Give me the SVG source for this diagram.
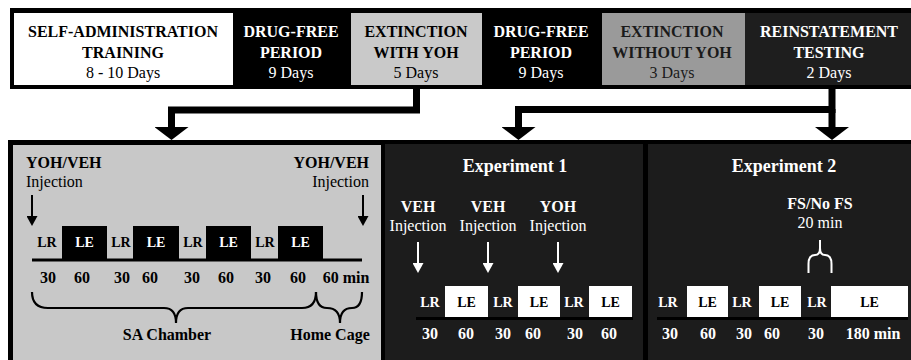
<svg xmlns="http://www.w3.org/2000/svg" width="911" height="360" viewBox="0 0 911 360">
<style>
text{font-family:"Liberation Serif","Times New Roman",serif;text-anchor:middle}
.h{font-weight:bold;font-size:16px}
.d{font-size:16px}
.t{font-weight:bold;font-size:14px}
.n{font-weight:bold;font-size:16px}
.ti{font-weight:bold;font-size:18px}
.w{fill:#fff}
.k{fill:#000}
.tl{stroke:#000;stroke-width:3}
.conn{fill:none;stroke:#000;stroke-width:7}
.inj{stroke-width:2}
.brace{fill:none;stroke:#000;stroke-width:2.2}
</style>
<defs>
<marker id="big" markerUnits="userSpaceOnUse" viewBox="0 0 13 34" markerWidth="13" markerHeight="34" refX="0" refY="17" orient="auto"><path d="M0,0 L13,17 L0,34 Z" fill="#000"/></marker>
<marker id="sk" markerUnits="userSpaceOnUse" viewBox="0 0 10 11" markerWidth="10" markerHeight="11" refX="0" refY="5.5" orient="auto"><path d="M0,0 L10,5.5 L0,11 Z" fill="#000"/></marker>
<marker id="sw" markerUnits="userSpaceOnUse" viewBox="0 0 10 11" markerWidth="10" markerHeight="11" refX="0" refY="5.5" orient="auto"><path d="M0,0 L10,5.5 L0,11 Z" fill="#fff"/></marker>
</defs>
<rect width="911" height="360" fill="#fff"/>
<!-- top bar frame -->
<rect x="10" y="8" width="901" height="81" fill="#000"/>
<g id="sa-training">
<rect x="14" y="13" width="219" height="72" fill="#fff"/>
<text class="h" x="123" y="37">SELF-ADMINISTRATION</text>
<text class="h" x="123" y="58">TRAINING</text>
<text class="d" x="123" y="78">8 - 10 Days</text>
</g>
<g id="drug-free-1">
<text class="h w" x="291" y="37">DRUG-FREE</text>
<text class="h w" x="291" y="58">PERIOD</text>
<text class="d w" x="291" y="78">9 Days</text>
</g>
<g id="extinction-yoh">
<rect x="351" y="13" width="131" height="72" fill="#c9c9c9"/>
<text class="h" x="416" y="37">EXTINCTION</text>
<text class="h" x="416" y="58">WITH YOH</text>
<text class="d" x="416" y="78">5 Days</text>
</g>
<g id="drug-free-2">
<text class="h w" x="541" y="37">DRUG-FREE</text>
<text class="h w" x="541" y="58">PERIOD</text>
<text class="d w" x="541" y="78">9 Days</text>
</g>
<g id="extinction-no-yoh">
<rect x="602" y="13" width="143" height="72" fill="#9a9a9a"/>
<text class="h" x="672" y="37" fill="#1a1a1a">EXTINCTION</text>
<text class="h" x="672" y="58" fill="#1a1a1a">WITHOUT YOH</text>
<text class="d" x="672" y="78" fill="#1a1a1a">3 Days</text>
</g>
<g id="reinstatement">
<rect x="745" y="13" width="166" height="72" fill="#1e1e1e"/>
<text class="h w" x="829" y="37">REINSTATEMENT</text>
<text class="h w" x="829" y="58">TESTING</text>
<text class="d w" x="829" y="78">2 Days</text>
</g>
<!-- connectors -->
<g id="connectors">
<polyline class="conn" points="416.5,88 416.5,110 171.5,110 171.5,127" marker-end="url(#big)"/>
<polyline class="conn" points="832,88 832,109.5 518.5,109.5 518.5,127" marker-end="url(#big)"/>
<line class="conn" x1="832" y1="109" x2="832" y2="127" marker-end="url(#big)"/>
</g>
<!-- bottom frame -->
<rect x="8" y="140" width="903" height="220" fill="#000"/>
<g id="extinction-panel">
<rect x="13" y="145" width="368" height="215" fill="#c8c8c8"/>
<text class="h" x="26" y="168" style="text-anchor:start">YOH/VEH</text>
<text class="d" x="26" y="187" style="text-anchor:start">Injection</text>
<text class="h" x="369" y="168" style="text-anchor:end">YOH/VEH</text>
<text class="d" x="369" y="187" style="text-anchor:end">Injection</text>
<line class="inj" x1="32" y1="195" x2="32" y2="216" stroke="#000" marker-end="url(#sk)"/>
<line class="inj" x1="363" y1="195" x2="363" y2="216" stroke="#000" marker-end="url(#sk)"/>
<rect x="62" y="226" width="45" height="34" fill="#000"/>
<rect x="133" y="226" width="46" height="34" fill="#000"/>
<rect x="206" y="226" width="45" height="34" fill="#000"/>
<rect x="278" y="226" width="45" height="34" fill="#000"/>
<line class="tl" x1="32" y1="260" x2="362" y2="260"/>
<text class="t" x="47" y="247">LR</text>
<text class="t w" x="84.5" y="247">LE</text>
<text class="t" x="121" y="247">LR</text>
<text class="t w" x="156" y="247">LE</text>
<text class="t" x="193" y="247">LR</text>
<text class="t w" x="228.5" y="247">LE</text>
<text class="t" x="265" y="247">LR</text>
<text class="t w" x="300.5" y="247">LE</text>
<text class="n" x="48" y="283">30</text>
<text class="n" x="82" y="283">60</text>
<text class="n" x="122" y="283">30</text>
<text class="n" x="150" y="283">60</text>
<text class="n" x="192" y="283">30</text>
<text class="n" x="226" y="283">60</text>
<text class="n" x="263" y="283">30</text>
<text class="n" x="298" y="283">60</text>
<text class="n" x="346" y="283">60 min</text>
<path class="brace" d="M32,292 Q32,308 48,308 L164,308 Q176,308 176,323 Q176,308 188,308 L302,308 Q316,308 316,292"/>
<path class="brace" d="M316,292 Q316,308 327,308 Q340,308 340,323 Q340,308 352,308 Q362,308 362,292"/>
<text class="n" x="167" y="340">SA Chamber</text>
<text class="n" x="330" y="340">Home Cage</text>
</g>
<g id="experiment-1">
<rect x="385" y="144" width="258" height="216" fill="#1c1c1c"/>
<text class="ti w" x="515" y="172">Experiment 1</text>
<text class="h w" x="418" y="212">VEH</text>
<text class="d w" x="418" y="231">Injection</text>
<text class="h w" x="488" y="212">VEH</text>
<text class="d w" x="488" y="231">Injection</text>
<text class="h w" x="558" y="212">YOH</text>
<text class="d w" x="558" y="231">Injection</text>
<line class="inj" x1="418" y1="242" x2="418" y2="263" stroke="#fff" marker-end="url(#sw)"/>
<line class="inj" x1="488" y1="242" x2="488" y2="263" stroke="#fff" marker-end="url(#sw)"/>
<line class="inj" x1="558" y1="242" x2="558" y2="263" stroke="#fff" marker-end="url(#sw)"/>
<rect x="445" y="286" width="43" height="32" fill="#fff"/>
<rect x="518" y="286" width="42" height="32" fill="#fff"/>
<rect x="589" y="286" width="43" height="32" fill="#fff"/>
<line class="tl" x1="416" y1="318.5" x2="633" y2="318.5"/>
<text class="t w" x="430" y="307">LR</text>
<text class="t" x="466.5" y="307">LE</text>
<text class="t w" x="503" y="307">LR</text>
<text class="t" x="539" y="307">LE</text>
<text class="t w" x="574" y="307">LR</text>
<text class="t" x="610.5" y="307">LE</text>
<text class="n w" x="430" y="339">30</text>
<text class="n w" x="466" y="339">60</text>
<text class="n w" x="503" y="339">30</text>
<text class="n w" x="533" y="339">60</text>
<text class="n w" x="575" y="339">30</text>
<text class="n w" x="609" y="339">60</text>
</g>
<g id="experiment-2">
<rect x="648" y="144" width="263" height="216" fill="#1c1c1c"/>
<text class="ti w" x="784" y="172">Experiment 2</text>
<text class="h w" x="820" y="209">FS/No FS</text>
<text class="d w" x="820" y="228">20 min</text>
<path d="M808.5,273 V264 Q808.5,255 815,255 Q820,255 820,248 V240 M820,248 Q820,255 825,255 Q831.5,255 831.5,264 V273" fill="none" stroke="#fff" stroke-width="2"/>
<rect x="687" y="286" width="41" height="32" fill="#fff"/>
<rect x="759" y="286" width="42" height="32" fill="#fff"/>
<rect x="831" y="286" width="77" height="32" fill="#fff"/>
<line class="tl" x1="657" y1="318.5" x2="908" y2="318.5"/>
<text class="t w" x="668" y="307">LR</text>
<text class="t" x="707.5" y="307">LE</text>
<text class="t w" x="742" y="307">LR</text>
<text class="t" x="780" y="307">LE</text>
<text class="t w" x="817" y="307">LR</text>
<text class="t" x="869.5" y="307">LE</text>
<text class="n w" x="670" y="339">30</text>
<text class="n w" x="708" y="339">60</text>
<text class="n w" x="744" y="339">30</text>
<text class="n w" x="772" y="339">60</text>
<text class="n w" x="816" y="339">30</text>
<text class="n w" x="873" y="339">180 min</text>
</g>
</svg>
